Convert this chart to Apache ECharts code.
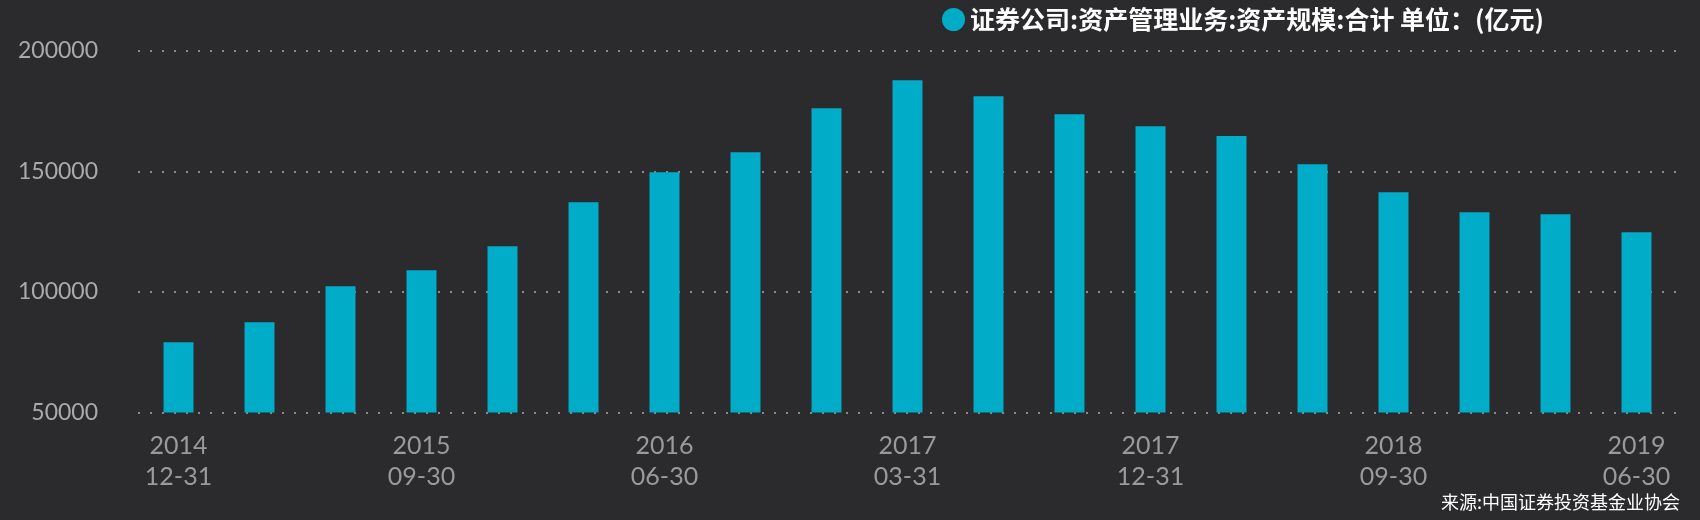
<!DOCTYPE html>
<html>
<head>
<meta charset="utf-8">
<script src="https://cdn.jsdelivr.net/npm/echarts@6/dist/echarts.min.js"></script>
<style>
html,body{margin:0;padding:0;background:#2b2b2d;}
#c{width:1700px;height:520px;}
</style>
</head>
<body>
<div id="c"></div>
<script>
var categories = ['2014\n12-31','2015\n03-31','2015\n06-30','2015\n09-30','2015\n12-31','2016\n03-31','2016\n06-30','2016\n09-30','2016\n12-31','2017\n03-31','2017\n06-30','2017\n09-30','2017\n12-31','2018\n03-31','2018\n06-30','2018\n09-30','2018\n12-31','2019\n03-31','2019\n06-30'];
var values = [79200, 87500, 102400, 109000, 119000, 137200, 149700, 158000, 176200, 187900, 181200, 173800, 168800, 164700, 153000, 141400, 133100, 132300, 124800];
var seriesName = '证券公司:资产管理业务:资产规模:合计 单位：(亿元)';
var sourceText = '来源:中国证券投资基金业协会';

var chart = echarts.init(document.getElementById('c'));
chart.setOption({
  backgroundColor: '#2b2b2d',
  animation: false,
  legend: {
    data: [seriesName],
    left: 937,
    top: 2,
    icon: 'circle',
    itemWidth: 23,
    itemHeight: 23,
    itemGap: 8,
    textStyle: {color: '#ffffff', fontSize: 25, fontWeight: 'bold', fontFamily: 'Noto Sans CJK SC'}
  },
  graphic: [{
    type: 'text',
    right: 20,
    top: 493,
    style: {text: sourceText, fill: '#ffffff', fontSize: 18, fontFamily: 'Noto Sans CJK SC'}
  }],
  grid: {left: 138, right: 23, top: 51, bottom: 107.5},
  xAxis: {
    type: 'category',
    data: categories,
    axisLine: {show: false},
    axisTick: {show: false},
    axisLabel: {interval: 2, color: '#9a9a9a', fontSize: 25, fontFamily: 'Lato', lineHeight: 31, margin: 18}
  },
  yAxis: {
    type: 'value',
    min: 50000,
    max: 200000,
    interval: 50000,
    axisLine: {show: false},
    axisTick: {show: false},
    axisLabel: {color: '#aaaaaa', fontSize: 23, fontFamily: 'Lato', margin: 40, formatter: function (v) { return String(v); }},
    splitLine: {lineStyle: {color: '#8a8a8a', width: 2, type: [2, 10]}}
  },
  series: [{
    name: seriesName,
    type: 'bar',
    data: values,
    barWidth: 30,
    itemStyle: {color: '#00acc8'}
  }]
});
</script>
</body>
</html>
